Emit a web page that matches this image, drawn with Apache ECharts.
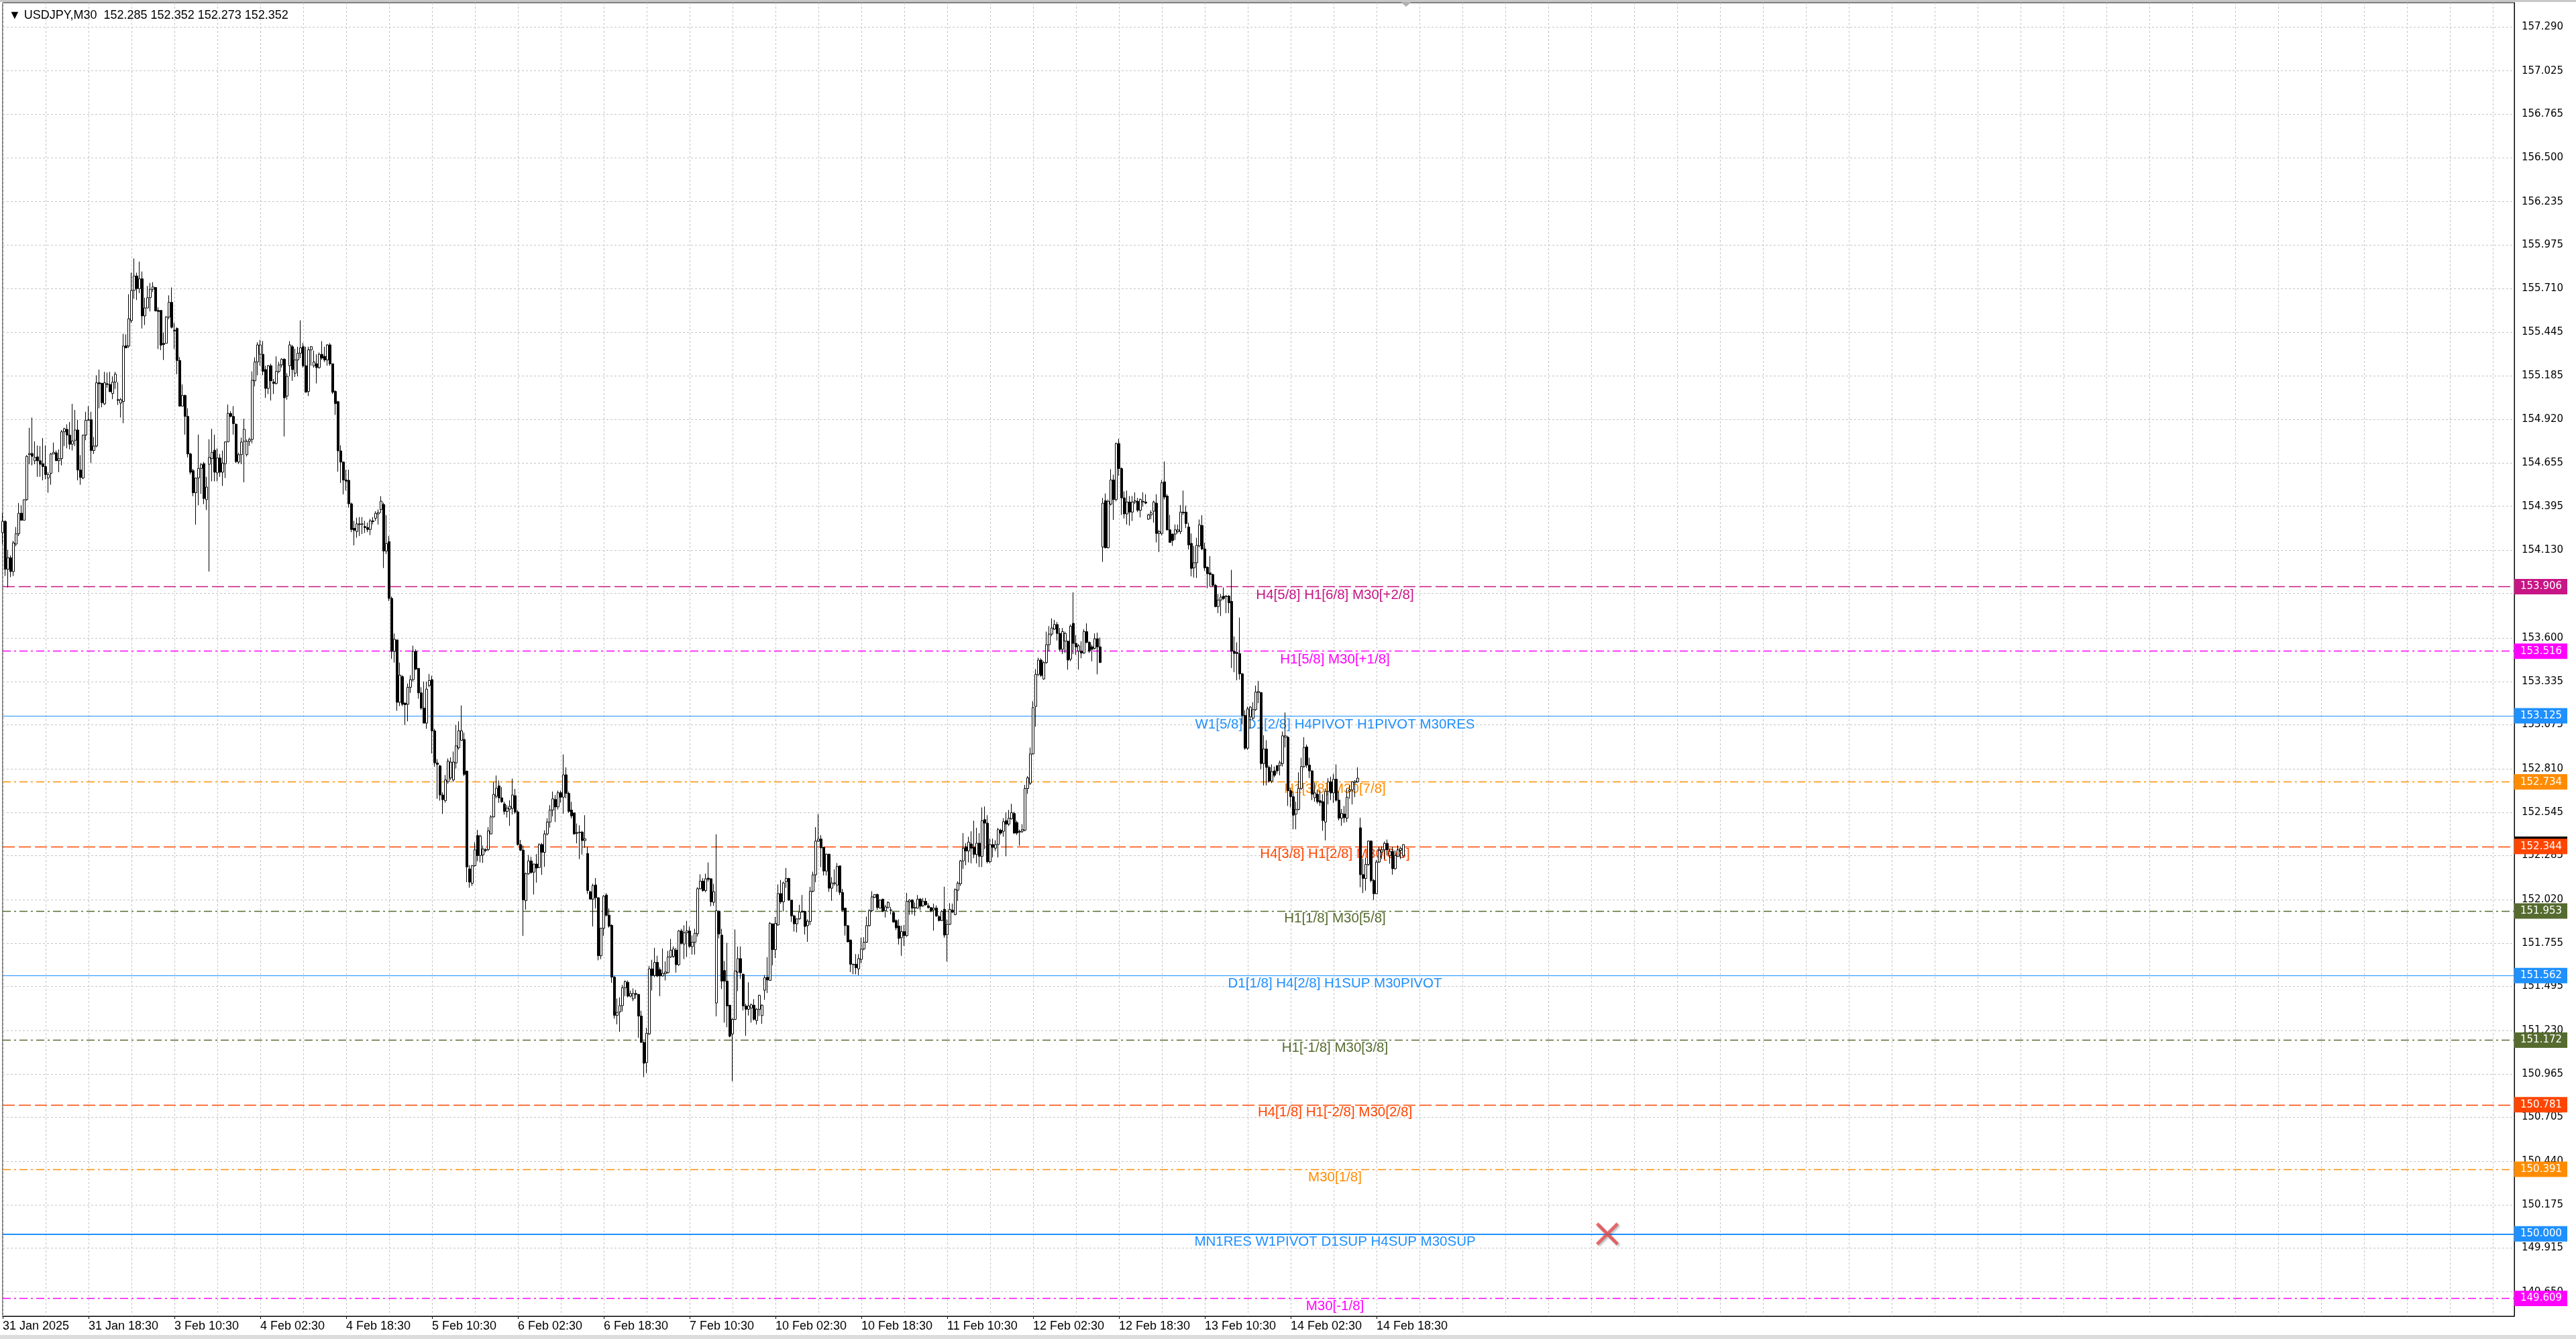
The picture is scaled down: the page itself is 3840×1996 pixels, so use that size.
<!DOCTYPE html>
<html>
<head>
<meta charset="utf-8">
<title>USDJPY,M30</title>
<script src="https://cdn.jsdelivr.net/npm/echarts@6.0.0/dist/echarts.min.js"></script>
<style>
  html, body { margin: 0; padding: 0; background: #fff; }
  #chart { width: 3840px; height: 1996px; }
</style>
</head>
<body>
<div id="chart"></div>
<script>
// time axis labels, one every 32 bars (16 hours of M30 bars)
const xLabels = ['31 Jan 2025', '31 Jan 18:30', '3 Feb 10:30', '4 Feb 02:30', '4 Feb 18:30',
  '5 Feb 10:30', '6 Feb 02:30', '6 Feb 18:30', '7 Feb 10:30', '10 Feb 02:30', '10 Feb 18:30',
  '11 Feb 10:30', '12 Feb 02:30', '12 Feb 18:30', '13 Feb 10:30', '14 Feb 02:30', '14 Feb 18:30'];

// price scale ticks (grid) and labels
const yTicks = [157.290, 157.025, 156.765, 156.500, 156.235, 155.975, 155.710, 155.445, 155.185,
  154.920, 154.655, 154.395, 154.130, 153.870, 153.600, 153.335, 153.075, 152.810, 152.545,
  152.285, 152.020, 151.755, 151.495, 151.230, 150.965, 150.705, 150.440, 150.175, 149.915, 149.650];
const yLabels = yTicks.filter(v => v !== 153.870);

// candles, rows are [open, close, low, high]
// 31 Jan 02:30 - 3 Feb 22:00
const barsPart1 = [
  [154.236,154.304,154.167,154.353],[154.304,154.015,153.974,154.311],[154.015,154.084,153.905,154.132],[154.084,154.001,153.967,154.098],
  [154.001,154.174,153.974,154.187],[154.167,154.229,154.153,154.270],[154.229,154.353,154.215,154.415],[154.353,154.311,154.311,154.401],
  [154.311,154.435,154.311,154.435],[154.435,154.697,154.428,154.704],[154.707,154.714,154.649,154.869],[154.714,154.697,154.642,154.931],
  [154.670,154.690,154.649,154.787],[154.694,154.670,154.573,154.762],[154.670,154.649,154.573,154.759],[154.652,154.635,154.552,154.807],
  [154.635,154.587,154.559,154.762],[154.566,154.587,154.477,154.601],[154.594,154.711,154.525,154.718],[154.711,154.721,154.711,154.780],
  [154.718,154.670,154.670,154.732],[154.670,154.683,154.601,154.739],[154.683,154.845,154.642,154.856],[154.845,154.863,154.759,154.869],
  [154.860,154.825,154.745,154.890],[154.825,154.770,154.739,154.904],[154.770,154.790,154.732,155.014],[154.794,154.856,154.759,154.977],
  [154.856,154.614,154.552,154.918],[154.614,154.569,154.525,154.704],[154.566,154.825,154.559,154.828],[154.825,154.914,154.794,154.966],
  [154.914,154.918,154.914,155.000],[154.918,154.732,154.656,154.966],[154.732,154.759,154.711,154.814],[154.759,155.141,154.752,155.186],
  [155.141,155.135,154.987,155.221],[155.138,155.021,154.993,155.141],[155.014,155.141,155.007,155.207],[155.135,155.131,155.111,155.203],
  [155.131,155.087,155.087,155.207],[155.076,155.145,155.042,155.179],[155.145,155.193,155.104,155.207],[155.039,155.035,155.007,155.145],
  [155.018,155.039,154.931,155.049],[155.028,155.363,154.897,155.437],[155.365,155.352,155.352,155.434],[155.363,155.528,155.352,155.676],
  [155.517,155.699,155.503,155.806],[155.699,155.786,155.648,155.892],[155.786,155.710,155.641,155.806],[155.710,155.769,155.682,155.873],
  [155.769,155.545,155.469,155.813],[155.545,155.593,155.490,155.655],[155.593,155.655,155.593,155.726],[155.655,155.706,155.572,155.744],
  [155.706,155.720,155.689,155.749],[155.717,155.575,155.572,155.717],[155.578,155.572,155.345,155.597],[155.578,155.368,155.338,155.578],
  [155.379,155.372,155.279,155.445],[155.379,155.538,155.379,155.545],[155.538,155.627,155.524,155.669],[155.627,155.476,155.469,155.717],
  [155.458,155.454,155.345,155.503],[155.469,155.276,155.193,155.476],[155.276,155.000,155.000,155.297],[155.000,155.065,155.000,155.131],
  [155.065,154.938,154.828,155.069],[154.938,154.711,154.690,154.987],[154.711,154.601,154.587,154.718],[154.610,154.477,154.456,154.621],
  [154.477,154.566,154.284,154.566],[154.566,154.624,154.401,154.828],[154.624,154.646,154.470,154.656],[154.652,154.442,154.408,154.663],
  [154.435,154.511,154.373,154.573],[154.649,154.690,154.001,154.800],[154.683,154.721,154.546,154.863],[154.734,154.601,154.546,154.828],
  [154.597,154.687,154.546,154.745],[154.687,154.601,154.573,154.711],[154.601,154.656,154.518,154.732],[154.652,154.784,154.566,154.787],
  [154.784,154.956,154.784,155.010],[154.956,154.938,154.931,154.969],[154.938,154.894,154.828,155.000],[154.890,154.665,154.656,154.897]
];
// 3 Feb 22:30 - 5 Feb 18:30
const barsPart2 = [
  [154.662,154.707,154.650,154.719],[154.707,154.783,154.650,154.810],[154.787,154.860,154.540,154.924],[154.707,154.787,154.696,154.799],
  [154.787,154.799,154.760,154.810],[154.799,155.157,154.776,155.210],[155.153,155.267,155.119,155.295],[155.267,155.370,155.187,155.386],
  [155.313,155.370,155.244,155.400],[155.313,155.210,155.187,155.393],[155.221,155.107,155.050,155.244],[155.107,155.244,155.073,155.249],
  [155.244,155.153,155.034,155.256],[155.146,155.137,155.073,155.164],[155.137,155.210,155.130,155.301],[155.210,155.249,155.199,155.267],
  [155.249,155.283,155.233,155.290],[155.283,155.050,154.817,155.290],[155.061,155.180,155.039,155.199],[155.244,155.370,155.180,155.393],
  [155.359,155.221,155.153,155.370],[155.199,155.279,155.176,155.347],[155.279,155.320,155.180,155.359],[155.320,155.352,155.290,155.518],
  [155.359,155.244,155.233,155.381],[155.244,155.084,155.084,155.359],[155.089,155.340,155.061,155.359],[155.340,155.359,155.244,155.363],
  [155.244,155.267,155.233,155.336],[155.256,155.233,155.137,155.313],[155.233,155.313,155.226,155.324],[155.313,155.290,155.279,155.393],
  [155.301,155.279,155.267,155.359],[155.279,155.370,155.244,155.374],[155.370,155.256,155.244,155.381],[155.256,155.084,155.073,155.256],
  [155.089,155.016,154.947,155.096],[155.027,154.730,154.604,155.032],[154.730,154.662,154.536,154.764],[154.662,154.554,154.467,154.666],
  [154.554,154.547,154.490,154.616],[154.552,154.410,154.387,154.616],[154.410,154.255,154.239,154.417],[154.262,154.250,154.159,154.307],
  [154.243,154.289,154.205,154.326],[154.289,154.285,154.216,154.330],[154.285,154.289,154.227,154.330],[154.273,154.266,154.234,154.307],
  [154.266,154.255,154.239,154.296],[154.255,154.307,154.221,154.319],[154.307,154.303,154.285,154.330],[154.323,154.353,154.307,154.365],
  [154.349,154.358,154.285,154.376],[154.376,154.426,154.353,154.456],[154.406,154.125,154.022,154.417],[154.125,154.170,154.106,154.342],
  [154.182,153.839,153.823,154.216],[153.839,153.519,153.473,153.850],[153.519,153.592,153.451,153.627],[153.588,153.211,153.160,153.588],
  [153.211,153.375,153.188,153.451],[153.366,153.199,153.188,153.375],[153.206,153.197,153.074,153.211],[153.199,153.302,153.096,153.325],
  [153.302,153.348,153.268,153.375],[153.348,153.519,153.336,153.553],[153.519,153.412,153.405,153.531],[153.416,153.268,153.233,153.416],
  [153.268,153.176,153.165,153.302],[153.176,153.085,153.085,153.336],[153.085,153.291,153.051,153.336],[153.313,153.343,153.302,153.382],
  [153.348,153.039,152.902,153.371],[153.039,152.845,152.822,153.051],[152.845,152.836,152.628,152.868],[152.827,152.651,152.617,152.833],
  [152.651,152.623,152.537,152.667],[152.617,152.742,152.605,152.772],[152.731,152.856,152.719,152.872],[152.754,152.850,152.742,152.879],
  [152.742,152.850,152.731,152.914],[152.845,152.948,152.811,153.074],[152.936,153.039,152.925,153.096],[152.982,153.039,152.978,153.192],
  [152.987,152.776,152.765,153.028],[152.795,152.217,152.125,152.799],[152.205,152.125,152.091,152.228],[152.118,152.224,152.102,152.228],
  [152.224,152.320,152.217,152.366]
];
// 5 Feb 19:00 - 7 Feb 15:00
const barsPart3 = [
  [152.407,152.285,152.251,152.441],[152.285,152.403,152.244,152.411],[152.289,152.325,152.241,152.346],[152.321,152.316,152.305,152.329],
  [152.321,152.434,152.312,152.457],[152.416,152.519,152.414,152.529],[152.519,152.655,152.515,152.729],[152.644,152.692,152.631,152.769],
  [152.706,152.634,152.604,152.739],[152.634,152.610,152.604,152.699],[152.597,152.552,152.533,152.610],[152.552,152.572,152.515,152.590],
  [152.566,152.583,152.465,152.620],[152.570,152.651,152.533,152.750],[152.647,152.549,152.538,152.688],[152.549,152.352,152.346,152.560],
  [152.352,152.318,152.312,152.380],[152.318,152.017,151.800,152.346],[152.013,152.176,151.959,152.183],[152.176,152.253,152.169,152.289],
  [152.253,152.183,152.176,152.278],[152.185,152.234,152.050,152.237],[152.234,152.210,152.122,152.294],[152.213,152.352,152.210,152.359],
  [152.352,152.305,152.169,152.362],[152.305,152.416,152.217,152.438],[152.416,152.488,152.407,152.511],[152.488,152.560,152.454,152.590],
  [152.560,152.628,152.522,152.672],[152.624,152.579,152.488,152.651],[152.579,152.665,152.563,152.678],[152.665,152.638,152.604,152.678],
  [152.638,152.773,152.538,152.896],[152.773,152.661,152.631,152.818],[152.661,152.552,152.543,152.672],[152.560,152.525,152.509,152.610],
  [152.543,152.416,152.411,152.543],[152.424,152.420,152.359,152.479],[152.427,152.424,152.264,152.468],[152.427,152.376,152.291,152.434],
  [152.376,152.386,152.332,152.529],[152.298,152.074,152.054,152.339],[152.067,152.022,152.020,152.074],[152.022,152.104,151.857,152.115],
  [152.108,152.031,151.966,152.149],[152.031,151.680,151.653,152.033],[151.680,151.846,151.660,151.850],[151.846,152.040,151.800,152.047],
  [152.047,151.925,151.918,152.058],[151.925,151.859,151.850,151.966],[151.864,151.551,151.517,151.870],[151.551,151.320,151.300,151.558],
  [151.320,151.338,151.266,151.422],[151.341,151.379,151.221,151.429],[151.379,151.487,151.343,151.504],[151.487,151.524,151.436,151.531],
  [151.520,151.436,151.429,151.531],[151.436,151.452,151.429,151.470],[151.420,151.452,151.406,151.483],[151.452,151.447,151.422,151.474],
  [151.447,151.316,151.185,151.449],[151.316,151.157,151.153,151.348],[151.157,151.031,150.947,151.164],[151.035,151.212,150.971,151.245],
  [151.208,151.601,151.202,151.619],[151.601,151.561,151.470,151.656],[151.561,151.640,151.551,151.728],[151.640,151.558,151.551,151.680],
  [151.596,151.558,151.436,151.610],[151.558,151.574,151.555,151.724],[151.572,151.582,151.531,151.646],[151.578,151.673,151.572,151.710],
  [151.673,151.714,151.667,151.782],[151.677,151.721,151.667,151.737],[151.714,151.626,151.578,151.728],[151.626,151.830,151.619,151.836],
  [151.830,151.755,151.748,151.843],[151.751,151.819,151.660,151.864],[151.819,151.830,151.673,151.891],[151.830,151.737,151.728,151.857],
  [151.735,151.762,151.687,151.803],[151.762,151.816,151.687,151.843],[151.813,152.085,151.796,152.094],[152.085,152.131,152.081,152.172],
  [152.131,152.074,152.067,152.149],[152.074,152.145,152.063,152.176],[152.149,152.142,152.128,152.244],[152.145,152.006,151.979,152.149],
  [152.003,152.067,151.982,152.115]
];
// 7 Feb 15:30 - 11 Feb 11:30
const barsPart4 = [
  [151.395,151.952,151.314,152.414],[151.948,151.812,151.785,151.955],[151.805,151.527,151.479,151.843],[151.591,151.527,151.276,151.649],
  [151.527,151.377,151.248,151.758],[151.381,151.194,151.187,151.384],[151.208,151.296,150.922,151.303],[151.296,151.588,151.292,151.839],
  [151.581,151.663,151.466,151.735],[151.663,151.577,151.540,151.737],[151.568,151.377,151.350,151.574],[151.377,151.357,151.197,151.391],
  [151.357,151.377,151.319,151.520],[151.364,151.384,151.276,151.391],[151.381,151.296,151.289,151.418],[151.289,151.357,151.265,151.364],
  [151.357,151.441,151.316,151.445],[151.319,151.381,151.269,151.387],[151.472,151.547,151.414,151.563],[151.550,151.534,151.455,151.672],
  [151.531,151.876,151.531,151.884],[151.873,151.717,151.622,151.873],[151.717,151.876,151.667,151.914],[151.866,152.056,151.862,152.111],
  [152.056,152.006,151.993,152.138],[152.006,152.120,151.948,152.128],[152.128,152.147,152.090,152.210],[152.147,152.016,152.012,152.151],
  [152.016,151.921,151.884,152.016],[151.921,151.873,151.826,151.927],[151.873,151.903,151.821,151.907],[151.903,151.944,151.898,151.988],
  [151.950,151.944,151.941,152.047],[151.948,151.857,151.808,151.952],[151.862,151.889,151.764,151.900],[151.887,152.070,151.866,152.097],
  [152.070,152.169,152.063,152.188],[152.169,152.373,152.124,152.457],[152.373,152.385,152.369,152.536],[152.385,152.332,152.215,152.409],
  [152.335,152.192,152.165,152.337],[152.192,152.294,152.165,152.297],[152.294,152.088,152.066,152.294],[152.088,152.120,152.012,152.155],
  [152.120,152.117,152.104,152.202],[152.107,152.219,152.066,152.240],[152.223,152.063,152.047,152.223],[152.063,151.955,151.948,152.084],
  [151.968,151.862,151.802,151.968],[151.862,151.764,151.762,151.866],[151.775,151.629,151.581,151.778],[151.629,151.626,151.568,151.631],
  [151.629,151.608,151.568,151.690],[151.601,151.663,151.563,151.690],[151.658,151.721,151.635,151.789],[151.721,151.762,151.713,151.792],
  [151.762,151.862,151.758,151.917],[151.862,151.952,151.857,151.961],[151.952,152.036,151.944,152.070],[152.033,152.050,152.029,152.052],
  [152.050,151.971,151.957,152.056],[151.968,152.016,151.965,152.022],[152.022,151.948,151.944,152.025],[151.952,151.975,151.911,151.988],
  [151.971,152.002,151.965,152.009],[151.957,151.955,151.930,151.975],[151.941,151.884,151.880,151.948],[151.893,151.849,151.835,151.900],
  [151.860,151.785,151.748,151.900],[151.789,151.826,151.680,151.862],[151.826,151.802,151.740,151.866],[151.802,152.009,151.794,152.060],
  [152.006,152.016,151.927,152.022],[152.016,151.968,151.930,152.022],[151.971,151.968,151.921,152.002],[151.968,152.022,151.965,152.047],
  [152.022,151.979,151.955,152.029],[151.982,152.009,151.975,152.029],[152.009,151.988,151.982,152.029],[151.982,151.971,151.965,151.998],
  [151.971,151.952,151.944,151.975],[151.957,151.968,151.832,151.995],[151.968,151.921,151.914,151.984],[151.917,151.893,151.887,151.925],
  [151.893,151.948,151.889,151.955],[151.961,151.805,151.789,152.097],[151.808,151.870,151.645,151.900],[151.870,151.961,151.866,151.998],
  [151.955,151.944,151.938,151.995]
];
// 11 Feb 12:00 - 13 Feb 08:00
const barsPart5 = [
  [151.929,152.080,151.925,152.087],[152.076,152.119,152.011,152.130],[152.115,152.253,152.102,152.259],[152.253,152.330,152.205,152.421],
  [152.339,152.313,152.227,152.360],[152.313,152.367,152.244,152.399],[152.356,152.330,152.238,152.432],[152.335,152.292,152.270,152.496],
  [152.292,152.360,152.238,152.453],[152.360,152.281,152.216,152.421],[152.281,152.496,152.216,152.576],[152.503,152.481,152.324,152.582],
  [152.481,152.248,152.238,152.529],[152.248,152.352,152.238,152.388],[152.352,152.335,152.274,152.388],[152.330,152.352,152.313,152.378],
  [152.352,152.442,152.274,152.453],[152.438,152.421,152.410,152.447],[152.432,152.490,152.399,152.511],[152.496,152.475,152.281,152.546],
  [152.475,152.511,152.464,152.561],[152.507,152.544,152.503,152.598],[152.539,152.421,152.417,152.550],[152.485,152.421,152.410,152.496],
  [152.432,152.427,152.345,152.442],[152.432,152.442,152.421,152.475],[152.438,152.690,152.432,152.712],[152.690,152.755,152.658,152.765],
  [152.723,152.899,152.712,152.938],[152.899,153.179,152.895,153.218],[153.186,153.380,153.063,153.412],[153.380,153.466,153.369,153.481],
  [153.466,153.373,153.365,153.477],[153.352,153.451,153.347,153.459],[153.451,153.559,153.444,153.638],[153.559,153.623,153.520,153.671],
  [153.623,153.660,153.610,153.718],[153.653,153.681,153.649,153.709],[153.681,153.627,153.584,153.696],[153.627,153.531,153.520,153.660],
  [153.531,153.638,153.503,153.660],[153.580,153.627,153.509,153.638],[153.580,153.466,153.408,153.584],[153.472,153.671,153.459,153.681],
  [153.688,153.567,153.503,153.875],[153.567,153.546,153.498,153.617],[153.520,153.552,153.408,153.563],[153.520,153.509,153.477,153.580],
  [153.509,153.638,153.503,153.653],[153.638,153.573,153.567,153.688],[153.573,153.520,153.509,153.580],[153.546,153.531,153.459,153.559],
  [153.537,153.595,153.531,153.627],[153.595,153.546,153.380,153.632],[153.546,153.451,153.451,153.602],[154.149,154.414,154.059,154.446],
  [154.429,154.145,154.140,154.472],[154.145,154.425,154.140,154.436],[154.408,154.554,154.399,154.619],[154.554,154.436,154.313,154.586],
  [154.436,154.774,154.425,154.780],[154.774,154.623,154.580,154.802],[154.623,154.446,154.343,154.630],[154.446,154.349,154.321,154.485],
  [154.349,154.421,154.285,154.490],[154.421,154.360,154.278,154.457],[154.360,154.421,154.306,154.457],[154.421,154.429,154.408,154.479],
  [154.425,154.371,154.360,154.446],[154.371,154.436,154.328,154.442],[154.421,154.425,154.393,154.479],[154.421,154.414,154.408,154.468],
  [154.317,154.343,154.313,154.349],[154.343,154.356,154.317,154.371],[154.365,154.421,154.296,154.429],[154.414,154.231,154.177,154.468],
  [154.231,154.242,154.119,154.253],[154.231,154.537,154.220,154.554],[154.543,154.451,154.436,154.666],[154.457,154.253,154.248,154.468],
  [154.253,154.177,154.177,154.343],[154.227,154.188,154.156,154.231],[154.227,154.253,154.192,154.285],[154.242,154.253,154.231,154.285],
  [154.242,154.360,154.227,154.403],[154.360,154.356,154.343,154.490],[154.360,154.291,154.263,154.399],[154.270,154.162,154.134,154.296],
  [154.171,154.020,153.972,154.231]
];
// 13 Feb 08:30 - 14 Feb 23:30
const barsPart6 = [
  [154.023,154.054,153.965,154.156],[154.054,154.159,153.962,154.205],[154.156,154.283,154.147,154.315],[154.279,154.138,154.129,154.341],
  [154.138,154.023,154.006,154.174],[154.027,153.988,153.900,154.032],[153.993,153.983,153.909,154.094],[153.983,153.918,153.909,153.988],
  [153.918,153.789,153.785,153.926],[153.789,153.829,153.750,153.865],[153.829,153.847,153.732,153.865],[153.852,153.838,153.829,153.905],
  [153.850,153.852,153.750,153.859],[153.852,153.812,153.750,153.859],[153.821,153.520,153.418,154.011],[153.520,153.506,153.393,153.609],
  [153.512,153.506,153.344,153.573],[153.506,153.383,153.348,153.723],[153.383,153.132,153.079,153.388],[153.132,152.934,152.924,153.164],
  [152.934,153.171,152.924,153.185],[153.123,153.182,153.053,153.189],[153.115,153.167,153.106,153.212],[153.167,153.273,153.159,153.312],
  [153.270,153.277,153.206,153.340],[153.270,152.841,152.806,153.273],[152.841,152.929,152.709,153.012],[152.929,152.818,152.709,152.982],
  [152.818,152.735,152.726,152.829],[152.735,152.793,152.723,152.836],[152.797,152.770,152.758,152.823],[152.829,152.797,152.779,152.829],
  [152.829,152.846,152.770,152.859],[152.841,153.009,152.823,153.035],[153.000,153.009,152.938,153.150],[153.000,152.677,152.585,153.009],
  [152.677,152.641,152.576,152.691],[152.641,152.529,152.444,152.673],[152.536,152.564,152.444,152.611],[152.564,152.691,152.559,152.788],
  [152.691,152.823,152.682,152.876],[152.823,152.938,152.815,153.000],[152.942,152.832,152.815,152.956],[152.832,152.797,152.753,152.876],
  [152.797,152.656,152.620,152.800],[152.635,152.664,152.611,152.726],[152.656,152.611,152.599,152.682],[152.617,152.606,152.585,152.682],
  [152.611,152.497,152.435,152.656],[152.488,152.673,152.377,152.691],[152.673,152.730,152.594,152.753],[152.730,152.664,152.620,152.762],
  [152.664,152.747,152.603,152.779],[152.747,152.620,152.611,152.836],[152.620,152.511,152.497,152.673],[152.511,152.541,152.465,152.567],
  [152.536,152.514,152.483,152.585],[152.511,152.638,152.488,152.691],[152.673,152.682,152.629,152.709],[152.682,152.730,152.594,152.735],
  [152.726,152.735,152.638,152.740],[152.730,152.753,152.726,152.818],[152.453,152.170,152.094,152.514],[152.170,152.147,152.059,152.267],
  [152.147,152.232,152.073,152.271],[152.232,152.373,152.223,152.377],[152.373,152.135,152.123,152.377],[152.135,152.055,152.017,152.144],
  [152.055,152.246,152.052,152.259],[152.246,152.317,152.241,152.338],[152.306,152.320,152.264,152.341],[152.320,152.359,152.264,152.370],
  [152.359,152.320,152.285,152.382],[152.285,152.311,152.236,152.329],[152.311,152.206,152.170,152.338],[152.206,152.285,152.200,152.317],
  [152.281,152.320,152.276,152.347],[152.317,152.329,152.264,152.341],[152.285,152.352,152.273,152.352]
];

// Murrey-style levels drawn by the indicator
const levelPrices = [153.906, 153.516, 153.125, 152.734, 152.344, 151.953, 151.562, 151.172, 150.781, 150.391, 150.000, 149.609];
const levelNames = ['H4[5/8] H1[6/8] M30[+2/8]', 'H1[5/8] M30[+1/8]', 'W1[5/8] D1[2/8] H4PIVOT H1PIVOT M30RES',
  'H1[3/8] M30[7/8]', 'H4[3/8] H1[2/8] M30[6/8]', 'H1[1/8] M30[5/8]', 'D1[1/8] H4[2/8] H1SUP M30PIVOT',
  'H1[-1/8] M30[3/8]', 'H4[1/8] H1[-2/8] M30[2/8]', 'M30[1/8]', 'MN1RES W1PIVOT D1SUP H4SUP M30SUP', 'M30[-1/8]'];
const levelColors = ['#c71585', '#ff00ff', '#1e90ff', '#ff8c00', '#ff4500', '#556b2f',
  '#1e90ff', '#556b2f', '#ff4500', '#ff8c00', '#1e90ff', '#ff00ff'];
const levelStyles = ['dash', 'dashdot', 'solid', 'dashdot', 'dash', 'dashdot',
  'solid', 'dashdot', 'dash', 'dashdot', 'solid', 'dashdot'];
const levelWidths = [1.4, 1.4, 1, 1.4, 1.4, 1.4, 1, 1.4, 1.4, 1.4, 2, 1.4];

const crossMarker = [598, 150.000];   // deleted-object cross on the MN1RES line

// ---------------------------------------------------------------
const bars = [].concat(barsPart1, barsPart2, barsPart3, barsPart4, barsPart5, barsPart6);
const lastBar = bars[bars.length - 1];
const bidPrice = lastBar[1];

const LABEL_EVERY = 32;
const GRID_EVERY = 16;
const SLOTS = 937;

// categories: only the labelled bars carry text
const categories = [];
for (let i = 0; i < SLOTS; i++) {
  const k = i / LABEL_EVERY;
  categories.push(i % LABEL_EVERY === 0 && k < xLabels.length ? xLabels[k] : '');
}
const isLabelled = (i) => i % LABEL_EVERY === 0 && i / LABEL_EVERY < xLabels.length;

const dashTypes = { dash: [18, 6], dashdot: [12, 5, 3, 5], solid: 'solid' };
const priceFont = 'DejaVu Sans';
const textFont = 'Liberation Sans';
const hidden = { color: 'rgba(0,0,0,0)', width: 1 };

// level lines + price boxes on the right + names in the middle
const markData = [];
// bid price box (black), sits under the 152.344 box
markData.push({
  yAxis: bidPrice,
  lineStyle: hidden,
  label: {
    show: true, position: 'end', distance: 0, formatter: bidPrice.toFixed(3),
    backgroundColor: '#000', color: '#fff', fontFamily: priceFont, fontSize: 15,
    lineHeight: 15, padding: [6, 8, 4, 9]
  }
});
levelPrices.forEach((p, i) => {
  markData.push({
    yAxis: p,
    lineStyle: { color: levelColors[i], type: dashTypes[levelStyles[i]], width: levelWidths[i], opacity: 1 },
    label: {
      show: true, position: 'end', distance: 0, formatter: p.toFixed(3),
      backgroundColor: levelColors[i], color: '#fff', fontFamily: priceFont, fontSize: 15,
      lineHeight: 15, padding: [4, 8, 4, 9]
    }
  });
  markData.push([
    {
      coord: [446, p],
      lineStyle: hidden,
      label: {
        show: true, position: 'insideMiddleBottom', distance: 1, formatter: levelNames[i],
        color: levelColors[i], fontFamily: textFont, fontSize: 20.5, lineHeight: 22
      }
    },
    { coord: [547, p] }
  ]);
});

const chart = echarts.init(document.getElementById('chart'));

const option = {
  animation: false,
  backgroundColor: '#ffffff',
  title: {
    text: '\u25BC USDJPY,M30  ' + [lastBar[0], lastBar[3], lastBar[2], lastBar[1]].map(v => v.toFixed(3)).join(' '),
    left: 8, top: 9,
    textStyle: { fontFamily: textFont, fontSize: 18, fontWeight: 'normal', color: '#000' }
  },
  graphic: [
    { type: 'rect', shape: { x: 0, y: 0, width: 3840, height: 3 }, style: { fill: '#c8c8c8' }, silent: true },
    { type: 'rect', shape: { x: 0, y: 1990, width: 3840, height: 6 }, style: { fill: '#dcdcdc' }, silent: true },
    { type: 'polygon', shape: { points: [[2088, 3], [2104, 3], [2096, 10]] }, style: { fill: '#b0b0b0' }, silent: true }
  ],
  grid: {
    left: 4, right: 92, top: 4, bottom: 34,
    show: true, borderColor: '#000', borderWidth: 1, backgroundColor: '#fff'
  },
  xAxis: {
    type: 'category',
    data: categories,
    boundaryGap: false,
    axisLine: { show: true, lineStyle: { color: '#000', width: 1 } },
    axisTick: { show: true, length: 4, interval: (i) => isLabelled(i), lineStyle: { color: '#000' } },
    axisLabel: {
      interval: (i) => isLabelled(i), align: 'left', margin: 6,
      fontFamily: textFont, fontSize: 18, color: '#000'
    },
    splitLine: {
      show: true, interval: GRID_EVERY - 1,
      lineStyle: { color: '#c4c4c4', type: [3, 3], width: 1 }
    }
  },
  yAxis: {
    type: 'value',
    position: 'right',
    min: 149.503,
    max: 157.437,
    axisLine: { show: true, lineStyle: { color: '#000', width: 1 } },
    axisTick: { show: false, customValues: yTicks },
    axisLabel: {
      customValues: yLabels, formatter: (v) => v.toFixed(3), margin: 11, align: 'left',
      fontFamily: priceFont, fontSize: 15, color: '#000'
    },
    splitLine: { show: true, lineStyle: { color: '#c4c4c4', type: [3, 3], width: 1 } }
  },
  series: [
    {
      name: 'levels',
      type: 'line',
      data: [],
      z: 1,
      silent: true,
      markLine: { symbol: 'none', silent: true, animation: false, z: 1, data: markData }
    },
    {
      name: 'USDJPY,M30',
      type: 'candlestick',
      data: bars,
      z: 5,
      barWidth: 3,
      silent: true,
      itemStyle: {
        color: '#ffffff', color0: '#000000',
        borderColor: '#000000', borderColor0: '#000000', borderWidth: 1
      }
    },
    {
      name: 'cross',
      type: 'scatter',
      data: [crossMarker],
      z: 10,
      silent: true,
      symbol: 'path://M2,0 L10,8 L18,0 L20,2 L12,10 L20,18 L18,20 L10,12 L2,20 L0,18 L8,10 L0,2 Z',
      symbolSize: 34,
      itemStyle: { color: '#e5474b', shadowColor: 'rgba(0,0,0,0.35)', shadowBlur: 3, shadowOffsetX: 2, shadowOffsetY: 2 }
    }
  ]
};

chart.setOption(option);
</script>
</body>
</html>
